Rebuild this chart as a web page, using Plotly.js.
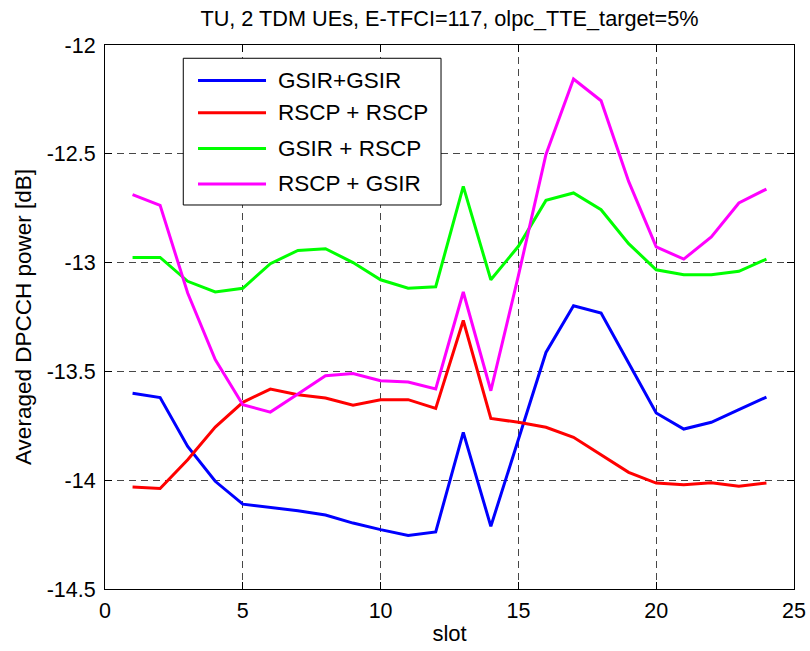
<!DOCTYPE html>
<html>
<head>
<meta charset="utf-8">
<script src="https://cdn.plot.ly/plotly-3.0.1.min.js"></script>
<style>
  html, body { margin: 0; padding: 0; background: #ffffff; }
  #chart { width: 810px; height: 651px; }
</style>
</head>
<body>
<div id="chart"></div>
<script>
// Slot index along the x axis
const slots = [1, 2, 3, 4, 5, 6, 7, 8, 9, 10, 11, 12, 13, 14, 15, 16, 17, 18, 19, 20, 21, 22, 23, 24];

// Averaged DPCCH power [dB] per slot for each scheme combination
const gsirGsir = [-13.60, -13.62, -13.845, -14.005, -14.11, -14.125, -14.14, -14.16, -14.197, -14.227, -14.254, -14.238,
                  -13.78, -14.212, -13.81, -13.413, -13.198, -13.232, -13.461, -13.691, -13.765, -13.734, -13.676, -13.618];
const rscpRscp = [-14.031, -14.038, -13.906, -13.756, -13.642, -13.581, -13.607, -13.622, -13.655, -13.63, -13.63, -13.67,
                  -13.266, -13.716, -13.734, -13.757, -13.803, -13.883, -13.964, -14.013, -14.021, -14.012, -14.028, -14.013];
const gsirRscp = [-12.976, -12.976, -13.086, -13.135, -13.118, -13.005, -12.944, -12.936, -13.0, -13.079, -13.118, -13.111,
                  -12.65, -13.079, -12.925, -12.714, -12.68, -12.757, -12.913, -13.033, -13.056, -13.056, -13.04, -12.984];
const rscpGsir = [-12.688, -12.737, -13.14, -13.446, -13.653, -13.687, -13.604, -13.52, -13.51, -13.543, -13.549, -13.581,
                  -13.135, -13.589, -13.06, -12.503, -12.156, -12.256, -12.627, -12.928, -12.984, -12.882, -12.726, -12.662];

const seriesNames = ['GSIR+GSIR', 'RSCP + RSCP', 'GSIR + RSCP', 'RSCP + GSIR'];
const seriesValues = [gsirGsir, rscpRscp, gsirRscp, rscpGsir];
const seriesColors = ['#0000ff', '#ff0000', '#00ff00', '#ff00ff'];

const xTicks = [0, 5, 10, 15, 20, 25];
const yTicks = [-14.5, -14, -13.5, -13, -12.5, -12];

const FONT = '"Liberation Sans", Arial, Helvetica, sans-serif';

const traces = seriesNames.map((name, i) => ({
  type: 'scatter',
  mode: 'lines',
  name: name,
  x: slots,
  y: seriesValues[i],
  line: { color: seriesColors[i], width: 3 },
  showlegend: false
}));

// Boxed legend in the upper-left part of the axes (paper coordinates)
const legBox = { x0: 0.1136, x1: 0.4877, y0: 0.7059, y1: 0.9756 };
const legRows = [0.9349, 0.8756, 0.8098, 0.7445];
const legLineX = [0.135, 0.2337];
const legTextX = 0.2482;

const shapes = [{
  type: 'rect', xref: 'paper', yref: 'paper',
  x0: legBox.x0, x1: legBox.x1, y0: legBox.y0, y1: legBox.y1,
  line: { color: '#000000', width: 1 }, fillcolor: '#ffffff', layer: 'above'
}];
const annotations = [];
seriesNames.forEach((name, i) => {
  shapes.push({
    type: 'line', xref: 'paper', yref: 'paper',
    x0: legLineX[0], x1: legLineX[1], y0: legRows[i], y1: legRows[i],
    line: { color: seriesColors[i], width: 3 }, layer: 'above'
  });
  annotations.push({
    xref: 'paper', yref: 'paper', x: legTextX, y: legRows[i],
    xanchor: 'left', yanchor: 'middle', showarrow: false,
    text: name, font: { family: FONT, size: 22.5, color: '#000000' }
  });
});

const axisCommon = {
  showline: true, linecolor: '#000000', linewidth: 1, mirror: 'ticks',
  ticks: 'inside', ticklen: 7, tickcolor: '#000000', tickwidth: 1,
  showgrid: true, gridcolor: 'rgba(0,0,0,0.72)', griddash: '7px,5px', gridwidth: 1,
  zeroline: false,
  tickfont: { family: FONT, size: 21.5, color: '#000000' }
};

const layout = {
  width: 810, height: 651,
  paper_bgcolor: '#ffffff', plot_bgcolor: '#ffffff',
  margin: { l: 105, r: 16, t: 45, b: 62, pad: 0 },
  font: { family: FONT, size: 21, color: '#000000' },
  title: {
    text: 'TU, 2 TDM UEs, E-TFCI=117, olpc_TTE_target=5%',
    font: { family: FONT, size: 21.7, color: '#000000' },
    xref: 'paper', x: 0.5, xanchor: 'center',
    yref: 'container', y: 0.972, yanchor: 'middle'
  },
  xaxis: Object.assign({}, axisCommon, {
    range: [0, 25], tickvals: xTicks, ticktext: xTicks.map(String),
    title: { text: 'slot', font: { family: FONT, size: 22, color: '#000000' }, standoff: 3 },
    ticklabelstandoff: 2
  }),
  yaxis: Object.assign({}, axisCommon, {
    range: [-14.5, -12], tickvals: yTicks, ticktext: yTicks.map(String),
    title: { text: 'Averaged DPCCH power [dB]', font: { family: FONT, size: 22.5, color: '#000000' }, standoff: 8 },
    ticklabelstandoff: 4
  }),
  shapes: shapes,
  annotations: annotations,
  showlegend: false
};

Plotly.newPlot('chart', traces, layout, { displayModeBar: false, staticPlot: true });
</script>
</body>
</html>
